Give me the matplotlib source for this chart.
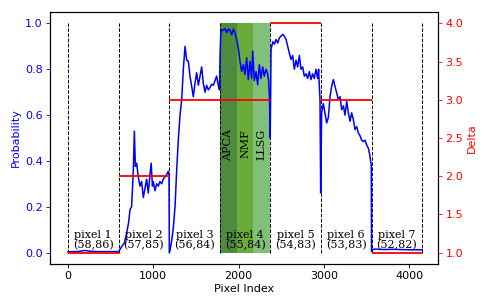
import matplotlib
matplotlib.use("Agg")
import matplotlib.pyplot as plt

# ---------------- data ----------------
pixel_edges = [0, 593, 1186, 1779, 2372, 2965, 3558, 4151]
pixel_names = ["pixel 1", "pixel 2", "pixel 3", "pixel 4", "pixel 5", "pixel 6", "pixel 7"]
pixel_coords = ["(58,86)", "(57,85)", "(56,84)", "(55,84)", "(54,83)", "(53,83)", "(52,82)"]
deltas = [1, 2, 3, 3, 4, 3, 1]

method_names = ["APCA", "NMF", "LLSG"]
method_edges = [1779, 1977, 2174, 2372]
method_colors = ["#4e8b3f", "#6bab3a", "#80c078"]

prob_x = [0, 50, 100, 150, 200, 250, 300, 350, 400, 450, 500, 550, 590,
          596, 629, 660, 688, 710, 727, 746, 766, 778, 790, 805, 824, 844, 863, 883, 902, 922,
          941, 961, 975, 990, 1000, 1020, 1039, 1059, 1078, 1098, 1117, 1137, 1156, 1176, 1184,
          1188, 1196, 1215, 1235, 1255, 1274, 1293, 1313, 1333, 1352, 1372, 1391, 1411, 1430,
          1450, 1469, 1489, 1508, 1528, 1547, 1567, 1586, 1606, 1625, 1645, 1664, 1684, 1703,
          1723, 1742, 1762, 1776,
          1782, 1790, 1802, 1821, 1841, 1860, 1880, 1899, 1919, 1938, 1958, 1977, 1997, 2016,
          2036, 2055, 2075, 2094, 2114, 2133, 2153, 2165, 2184, 2204, 2223, 2243, 2262, 2282,
          2301, 2321, 2340, 2352, 2362, 2370,
          2376, 2380, 2400, 2419, 2439, 2458, 2478, 2497, 2517, 2536, 2556, 2575, 2595, 2614,
          2634, 2653, 2673, 2692, 2712, 2731, 2751, 2770, 2790, 2809, 2829, 2848, 2868, 2887,
          2907, 2926, 2938, 2946, 2954, 2962,
          2968, 2973, 2993, 3012, 3032, 3052, 3071, 3091, 3110, 3130, 3149, 3169, 3189, 3208,
          3228, 3247, 3267, 3286, 3306, 3325, 3345, 3364, 3384, 3403, 3423, 3443, 3462, 3482,
          3501, 3521, 3533, 3545, 3555, 3558,
          3562, 3600, 3700, 3800, 3900, 4000, 4100, 4151]
prob_y = [0.003, 0.004, 0.004, 0.006, 0.009, 0.006, 0.005, 0.004, 0.004, 0.004, 0.004, 0.004, 0.004,
          0.005, 0.026, 0.04, 0.085, 0.13, 0.187, 0.2, 0.36, 0.53, 0.376, 0.39, 0.33, 0.29, 0.31, 0.24, 0.28, 0.32,
          0.26, 0.34, 0.39, 0.29, 0.31, 0.27, 0.30, 0.29, 0.31, 0.30, 0.32, 0.33, 0.34, 0.355, 0.34,
          0.0, 0.01, 0.05, 0.11, 0.2, 0.36, 0.49, 0.6, 0.668, 0.80, 0.90, 0.84, 0.835, 0.77,
          0.726, 0.68, 0.74, 0.785, 0.73, 0.77, 0.81, 0.74, 0.70, 0.73, 0.71, 0.72, 0.735, 0.73,
          0.75, 0.77, 0.73, 0.71,
          0.85, 0.95, 0.974, 0.97, 0.978, 0.96, 0.975, 0.97, 0.95, 0.975, 0.96, 0.93, 0.89, 0.835,
          0.79, 0.82, 0.777, 0.85, 0.755, 0.835, 0.76, 0.88, 0.75, 0.79, 0.733, 0.82, 0.76, 0.81,
          0.77, 0.80, 0.78, 0.75, 0.675, 0.5,
          0.70, 0.886, 0.92, 0.91, 0.93, 0.915, 0.937, 0.945, 0.952, 0.945, 0.93, 0.90, 0.87, 0.843,
          0.86, 0.80, 0.84, 0.81, 0.86, 0.80, 0.81, 0.77, 0.78, 0.76, 0.79, 0.755, 0.78, 0.76,
          0.80, 0.76, 0.80, 0.726, 0.67, 0.26,
          0.45, 0.61, 0.65, 0.61, 0.566, 0.59, 0.68, 0.726, 0.755, 0.726, 0.70, 0.668, 0.68, 0.624,
          0.64, 0.60, 0.66, 0.61, 0.573, 0.61, 0.58, 0.537, 0.55, 0.522, 0.51, 0.49, 0.485, 0.49,
          0.47, 0.455, 0.435, 0.405, 0.38, 0.005,
          0.012, 0.015, 0.013, 0.014, 0.013, 0.012, 0.012, 0.012]

# ---------------- figure ----------------
plt.rcParams['font.size'] = 8
fig = plt.figure(figsize=(4.89, 3.08), dpi=100)
ax = fig.add_axes([0.1022, 0.1429, 0.7935, 0.8181])

for i, name in enumerate(method_names):
    ax.fill_between([method_edges[i], method_edges[i + 1]], 0, 1,
                    color=method_colors[i], linewidth=0, zorder=1)
    ax.text((method_edges[i] + method_edges[i + 1]) / 2, 0.54, name,
            rotation=90, ha='center', va='top', family='DejaVu Serif',
            fontsize=8, zorder=3)

ax.vlines(pixel_edges, 0, 1, colors='black', linestyles='--', linewidth=0.7, zorder=2)

ax.plot(prob_x, prob_y, color='blue', linewidth=1.1, zorder=4)

for i in range(len(pixel_names)):
    xc = (pixel_edges[i] + pixel_edges[i + 1]) / 2
    ax.text(xc, 0.012, pixel_names[i] + "\n" + pixel_coords[i], ha='center', va='bottom',
            family='DejaVu Serif', fontsize=8, linespacing=0.95, zorder=5)

ax.set_xlim(-211, 4337)
ax.set_ylim(-0.05, 1.05)
ax.set_xticks([0, 1000, 2000, 3000, 4000])
ax.set_yticks([0.0, 0.2, 0.4, 0.6, 0.8, 1.0])
ax.set_xlabel("Pixel Index", fontsize=8, labelpad=2)
ax.set_ylabel("Probability", color='blue', fontsize=8, labelpad=3)
ax.tick_params(axis='y', colors='blue', labelsize=8, length=2.8, width=0.6, pad=2.5)
ax.tick_params(axis='x', labelsize=8, length=2.8, width=0.6, pad=2.5)

ax2 = ax.twinx()
for i in range(len(deltas)):
    ax2.hlines(deltas[i], pixel_edges[i], pixel_edges[i + 1], colors='red', linewidth=1.3)
ax2.set_ylim(0.85, 4.15)
ax2.set_yticks([1.0, 1.5, 2.0, 2.5, 3.0, 3.5, 4.0])
ax2.set_ylabel("Delta", color='red', fontsize=8, labelpad=3)
ax2.tick_params(axis='y', colors='red', labelsize=8, length=2.8, width=0.6, pad=2.5)

fig.savefig("out.png", dpi=100)
